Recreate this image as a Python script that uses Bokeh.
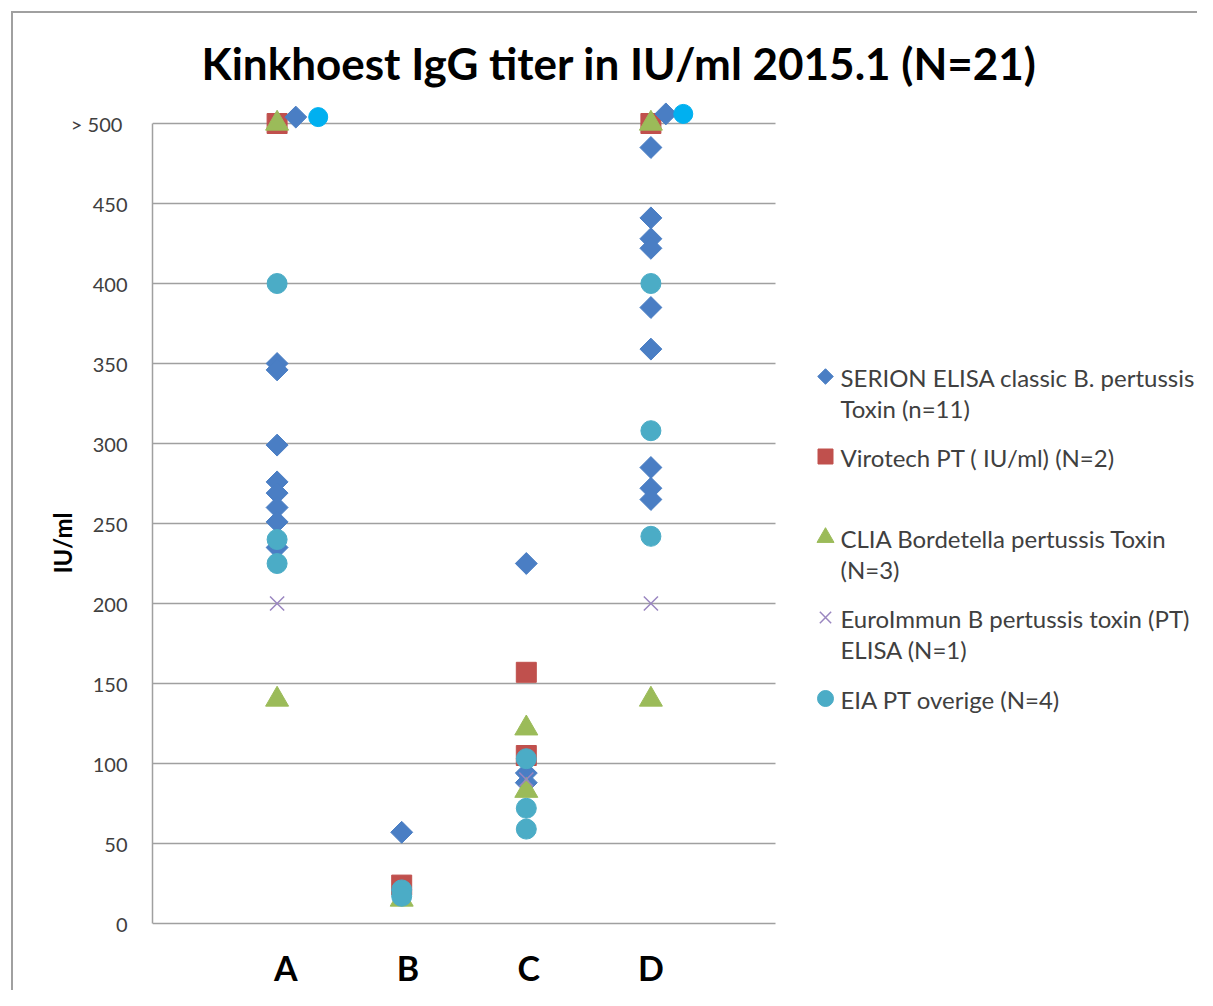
import numpy as np
from bokeh.plotting import figure
from bokeh.models import FixedTicker, Range1d
from bokeh.embed import file_html
from bokeh.resources import INLINE
from bokeh.core.properties import value

# ---------------- data ----------------
categories = ["A", "B", "C", "D"]
y_ticks = [0, 50, 100, 150, 200, 250, 300, 350, 400, 450, 500]
y_tick_overrides = {500: ">  500"}
title_text = "Kinkhoest IgG titer in IU/ml 2015.1 (N=21)"
y_label = "IU/ml"

serion = {"A": [350, 346, 299, 276, 269, 260, 251, 235],
          "B": [57],
          "C": [225, 94, 88],
          "D": [485, 441, 428, 422, 385, 359, 285, 272, 265]}
virotech = {"A": [500], "B": [24], "C": [157, 105], "D": [500]}
clia = {"A": [500, 140], "B": [15], "C": [122, 83], "D": [500, 140]}
euro = {"A": [200], "B": [18], "C": [90], "D": [200]}
eia = {"A": [400, 240, 225], "B": [21, 17], "C": [103, 72, 59], "D": [400, 308, 242]}

# values above the scale (">500"), drawn beside the category
over500_serion_cat = ["A", "D"]
over500_serion_val = [504, 506]
over500_eia_cat = ["A", "D"]
over500_eia_val = [504, 506]

legend_labels = [["SERION ELISA classic B. pertussis", "Toxin (n=11)"],
                 ["Virotech PT ( IU/ml) (N=2)"],
                 ["CLIA Bordetella pertussis Toxin", "(N=3)"],
                 ["EuroImmun B pertussis toxin (PT)", "ELISA (N=1)"],
                 ["EIA PT overige (N=4)"]]

# ---------------- layout / style ----------------
W, H = 1197, 990
FRAME_L, FRAME_T = 152, 95
PX_X = 124.6
PX_Y = 1.6
Y0_PIX = 923  # pixel row of value 0

x_end = (W - FRAME_L) / PX_X
y_end = (Y0_PIX - FRAME_T) / PX_Y
y_start = -(H - Y0_PIX) / PX_Y

C_SERION = "#4a7ec4"
C_VIRO = "#c0504d"
C_CLIA = "#9bbb59"
C_EURO = "#9a86c0"
C_EIA = "#4bacc6"
C_OVER = "#00b0f0"
GRID = "#a0a0a0"
TXT = "#404040"
FONT = "Lato"

cat_x = {c: i + 1 for i, c in enumerate(categories)}
cat_label_shift = [0.07, 0.05, 0.02, 0.0]
over_serion_off = [0.15, 0.12]
over_eia_off = [0.33, 0.26]


def flat(d):
    xs, ys = [], []
    for c in categories:
        for v in d.get(c, []):
            xs.append(cat_x[c])
            ys.append(v)
    return xs, ys


def yv(pix_y):
    return (Y0_PIX - pix_y) / PX_Y


def xv(pix_x):
    return (pix_x - FRAME_L) / PX_X


p = figure(width=W, height=H, x_range=Range1d(0, x_end), y_range=Range1d(y_start, y_end),
           output_backend="svg", toolbar_location=None,
           min_border_left=FRAME_L, min_border_right=0,
           min_border_top=FRAME_T, min_border_bottom=0)
p.outline_line_color = None
p.xgrid.visible = False
p.ygrid.visible = False
p.xaxis.visible = False
p.background_fill_alpha = 0
p.border_fill_alpha = 0
# chart border (left and top edges visible, like the cropped reference)
p.styles = {
    "background-image": "linear-gradient(#a0a0a0, #a0a0a0), linear-gradient(#a0a0a0, #a0a0a0)",
    "background-size": "2px 100%, 100% 2px",
    "background-position": "11px 11px, 11px 11px",
    "background-repeat": "no-repeat",
    "background-color": "white",
}

# title
p.title.text = title_text
p.title.text_font = FONT
p.title.text_font_size = "44px"
p.title.text_font_style = "bold"
p.title.text_color = "black"
p.title.align = "left"
p.title.offset = 49
p.title.standoff = 14

# y axis
ya = p.yaxis[0]
ya.ticker = FixedTicker(ticks=y_ticks)
ya.bounds = (0, 500)
ya.major_label_overrides = y_tick_overrides
ya.axis_line_color = GRID
ya.axis_line_width = 1.5
ya.major_tick_line_color = None
ya.minor_tick_line_color = None
ya.major_tick_out = 0
ya.major_tick_in = 0
ya.major_label_standoff = 25
ya.major_label_text_font = FONT
ya.major_label_text_font_size = "20px"
ya.major_label_text_color = TXT
ya.axis_label = y_label
ya.axis_label_text_font = FONT
ya.axis_label_text_font_size = "24px"
ya.axis_label_text_font_style = "bold"
ya.axis_label_text_color = "black"
ya.axis_label_standoff = -9

# gridlines only across the plot area (x 0..5)
p.segment(x0=[0] * len(y_ticks), x1=[5] * len(y_ticks), y0=y_ticks, y1=y_ticks,
          line_color=GRID, line_width=1.5, level="underlay")

# category labels below the plot area
p.text([cat_x[c] + s for c, s in zip(categories, cat_label_shift)], [yv(967)] * len(categories),
       text=categories, text_font=value(FONT), text_font_size="34px", text_font_style="bold",
       text_color="black", text_align="center", text_baseline="middle")

# series
xs, ys = flat(serion)
p.scatter(xs, ys, marker="square", angle=np.pi / 4, size=15.5,
          fill_color=C_SERION, line_color=C_SERION)
xs, ys = flat(virotech)
p.scatter(xs, ys, marker="square", size=20, fill_color=C_VIRO, line_color=C_VIRO)
xs, ys = flat(clia)
p.scatter(xs, ys, marker="triangle", size=23, fill_color=C_CLIA, line_color=C_CLIA)
xs, ys = flat(euro)
p.scatter(xs, ys, marker="x", size=20, line_color=C_EURO, line_width=1.5)
xs, ys = flat(eia)
p.scatter(xs, ys, marker="circle", size=20, fill_color=C_EIA, line_color=C_EIA)

# >500 markers
p.scatter([cat_x[c] + o for c, o in zip(over500_serion_cat, over_serion_off)], over500_serion_val,
          marker="square", angle=np.pi / 4, size=15.5, fill_color=C_SERION, line_color=C_SERION)
p.scatter([cat_x[c] + o for c, o in zip(over500_eia_cat, over_eia_off)], over500_eia_val,
          marker="circle", size=19, fill_color=C_OVER, line_color=C_OVER)

# legend (drawn manually, multi-line labels)
leg_mx = xv(825)
leg_tx = xv(840)
leg_rows = [376, 456, 537, 617, 698]
leg_markers = [dict(marker="square", angle=np.pi / 4, size=11, fill_color=C_SERION, line_color=C_SERION),
               dict(marker="square", size=15, fill_color=C_VIRO, line_color=C_VIRO),
               dict(marker="triangle", size=17, fill_color=C_CLIA, line_color=C_CLIA),
               dict(marker="x", size=16, line_color=C_EURO, line_width=1.5),
               dict(marker="circle", size=16, fill_color=C_EIA, line_color=C_EIA)]
tx, ty, tt = [], [], []
for row, lab, mk in zip(leg_rows, legend_labels, leg_markers):
    p.scatter([leg_mx], [yv(row)], **mk)
    for k, line in enumerate(lab):
        tx.append(leg_tx)
        ty.append(yv(row + 1 + 31 * k))
        tt.append(line)
p.text(tx, ty, text=tt, text_font=value(FONT), text_font_size="24px", text_color=TXT,
       text_baseline="middle", text_align="left")

open("out.html", "w").write(file_html(p, INLINE))
